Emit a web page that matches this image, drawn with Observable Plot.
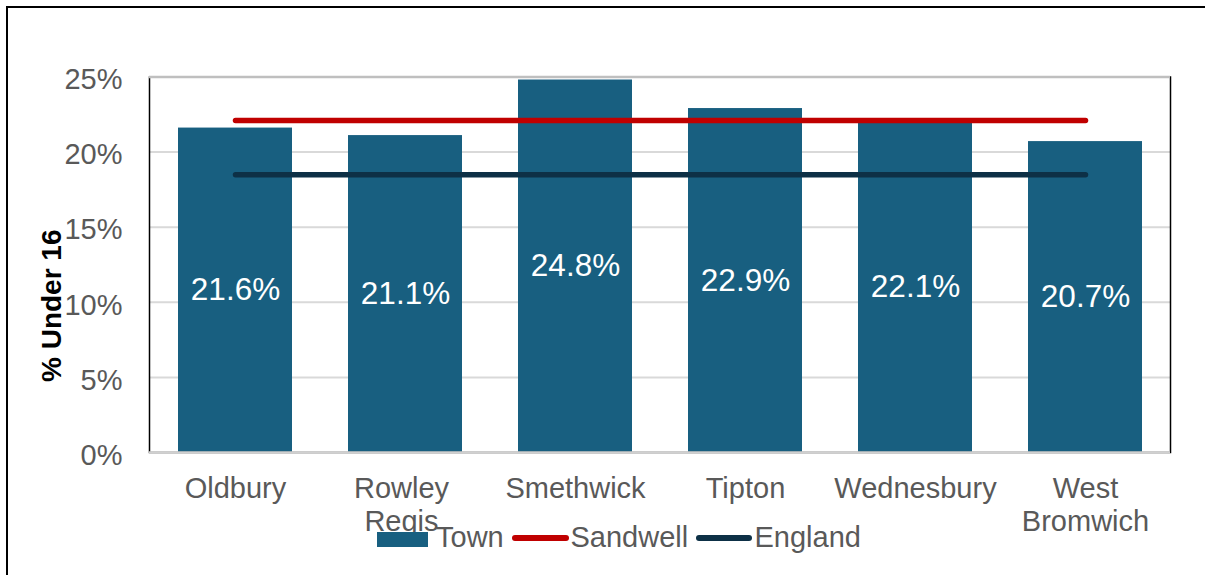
<!DOCTYPE html>
<html>
<head>
<meta charset="utf-8">
<script src="https://cdn.jsdelivr.net/npm/d3@7"></script>
<script src="https://cdn.jsdelivr.net/npm/@observablehq/plot@0.6"></script>
<style>
  html, body { margin: 0; padding: 0; background: #fff; }
  #wrap { position: relative; width: 1205px; height: 575px; overflow: hidden; background: #fff;
          font-family: "Liberation Sans", Arial, sans-serif; }
  #border { position: absolute; left: 6px; top: 6px; width: 1400px; height: 800px;
            border-left: 2px solid #000; border-top: 2px solid #000; pointer-events: none; }
  .lg { position: absolute; top: 520px; height: 34px; line-height: 34px; font-size: 29px; color: #595959; white-space: nowrap; }
  .sw { position: absolute; }
</style>
</head>
<body>
<div id="wrap"></div>
<script>
const towns = ["Oldbury", "Rowley Regis", "Smethwick", "Tipton", "Wednesbury", "West Bromwich"];
const townLabels = ["Oldbury", "Rowley\nRegis", "Smethwick", "Tipton", "Wednesbury", "West\nBromwich"];
const underSixteen = [21.6, 21.1, 24.8, 22.9, 22.1, 20.7];
const sandwell = 22.1;
const england = 18.5;
const yTicks = [0, 5, 10, 15, 20, 25];
const seriesNames = ["Town", "Sandwell", "England"];
const yTitle = "% Under 16";

const barColor = "#185f80";
const sandwellColor = "#c00000";
const englandColor = "#0d3046";
const textGray = "#595959";

const rows = towns.map((t, i) => ({town: t, value: underSixteen[i]}));
const labelOf = new Map(towns.map((t, i) => [t, townLabels[i]]));
const xAxisOpts = {tickSize: 0, tickPadding: 22, fontSize: 29, fill: textGray, lineHeight: 1.13,
  label: null, tickFormat: d => labelOf.get(d)};

const chart = Plot.plot({
  width: 1205,
  height: 575,
  marginLeft: 149,
  marginRight: 35,
  marginTop: 76.5,
  marginBottom: 123,
  style: {fontFamily: '"Liberation Sans", Arial, sans-serif', background: "transparent"},
  x: {type: "band", domain: towns, paddingInner: 0.33, paddingOuter: 0.165},
  y: {domain: [0, 25]},
  marks: [
    Plot.ruleY(yTicks.filter(d => d > 0 && d < 25), {stroke: "#d9d9d9", strokeWidth: 2}),
    Plot.barY(rows, {x: "town", y: "value", fill: barColor}),
    Plot.frame({stroke: "#000", strokeWidth: 1.5}),
    Plot.ruleY([25], {stroke: "#bfbfbf", strokeWidth: 2.5}),
    Plot.ruleY([0], {stroke: "#d0d0d0", strokeWidth: 2.5}),
    Plot.line(towns, {x: d => d, y: () => sandwell, stroke: sandwellColor, strokeWidth: 5.5, strokeLinecap: "round"}),
    Plot.line(towns, {x: d => d, y: () => england, stroke: englandColor, strokeWidth: 5.5, strokeLinecap: "round"}),
    Plot.text(rows, {x: "town", y: d => d.value / 2, text: d => d3.format(".1f")(d.value) + "%",
      fill: "#fff", fontSize: 31.5, lineAnchor: "middle"}),
    Plot.axisY(yTicks, {tickSize: 0, tickPadding: 27, tickFormat: d => d + "%", fontSize: 29,
      fill: textGray, label: null, dy: 3}),
    Plot.axisX(towns.filter(t => t !== "Rowley Regis"), xAxisOpts),
    Plot.axisX(["Rowley Regis"], {...xAxisOpts, dx: -4}),
    Plot.text([yTitle], {frameAnchor: "left", text: d => d, rotate: -90, dx: -97, dy: 41,
      fontSize: 28, fontWeight: "bold", fill: "#000", textAnchor: "middle", lineAnchor: "middle"})
  ]
});

const wrap = document.getElementById("wrap");
wrap.appendChild(chart);

// legend (HTML, overlaid below the plot area)
function addSwatch(left, top, w, h, color, radius) {
  const s = document.createElement("div");
  s.className = "sw";
  s.style.left = left + "px"; s.style.top = top + "px";
  s.style.width = w + "px"; s.style.height = h + "px";
  s.style.background = color;
  if (radius) s.style.borderRadius = radius + "px";
  wrap.appendChild(s);
}
function addText(left, txt) {
  const t = document.createElement("div");
  t.className = "lg";
  t.style.left = left + "px";
  t.textContent = txt;
  wrap.appendChild(t);
}
addSwatch(377, 531.5, 51, 15.5, barColor);
addText(436, seriesNames[0]);
addSwatch(511.5, 535.3, 57, 5.5, sandwellColor, 3);
addText(570.5, seriesNames[1]);
addSwatch(696, 535.3, 56, 5.5, englandColor, 3);
addText(754.5, seriesNames[2]);

const b = document.createElement("div");
b.id = "border";
wrap.appendChild(b);
</script>
</body>
</html>
